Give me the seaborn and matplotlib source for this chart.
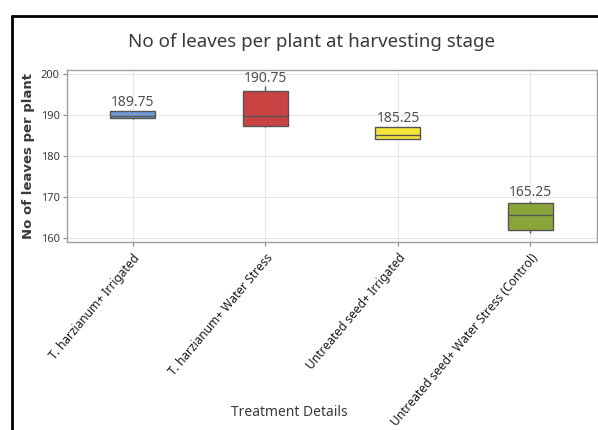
import matplotlib
matplotlib.use("Agg")
import matplotlib.pyplot as plt
import seaborn as sns
import pandas as pd
from matplotlib.lines import Line2D

# ---- data ----
treatments = [
    "T. harzianum+ Irrigated",
    "T. harzianum+ Water Stress",
    "Untreated seed+ Irrigated",
    "Untreated seed+ Water Stress (Control)",
]
leaves_t1 = [189.2, 189.3, 189.75, 191.0, 191.1]
leaves_t2 = [187.2, 187.3, 189.75, 196.0, 197.1]
leaves_t3 = [184.1, 184.2, 185.3, 187.1, 187.2]
leaves_t4 = [161.4, 162.0, 165.75, 168.7, 169.2]
mean_labels = [189.75, 190.75, 185.25, 165.25]
y_ticks = [160, 170, 180, 190, 200]

palette = ["#6f9bd6", "#c94343", "#f7e53c", "#8aa53a"]

groups = [leaves_t1, leaves_t2, leaves_t3, leaves_t4]
df = pd.DataFrame({
    "Treatment": [t for t, g in zip(treatments, groups) for _ in g],
    "Leaves": [v for g in groups for v in g],
})

sns.set_theme(style="white")
plt.rcParams["font.family"] = ["Noto Sans", "DejaVu Sans"]
text_c = "#3a3a3a"

fig = plt.figure(figsize=(5.98, 4.30), dpi=100)
ax = fig.add_axes([66.7 / 598, 1 - 242 / 430, 530 / 598, 172 / 430])

sns.boxplot(
    data=df, x="Treatment", y="Leaves", hue="Treatment", order=treatments,
    hue_order=treatments, palette=palette, width=0.34, linecolor="#555555",
    linewidth=1, fliersize=0, legend=False, ax=ax, saturation=1,
    capprops={"visible": False},
)

ax.set_xlim(-0.5, 3.5)
ax.set_ylim(159.1, 201.05)
ax.set_yticks(y_ticks)
ax.set_yticklabels([str(t) for t in y_ticks], fontsize=8, color=text_c)
ax.set_xticks(range(len(treatments)))
ax.set_xticklabels(treatments, rotation=50, ha="right", rotation_mode="anchor",
                   fontsize=8.6, color="#1a1a1a")
ax.tick_params(axis="both", length=3, width=0.8, color="#888888", pad=2,
               bottom=True, left=True)
ax.tick_params(axis="x", pad=4)
ax.grid(True, color="#e6e6e6", linewidth=0.8)
ax.set_axisbelow(True)
for s in ax.spines.values():
    s.set_color("#a0a0a0")
    s.set_linewidth(1)

for i, g in enumerate(groups):
    ax.annotate(f"{mean_labels[i]:.2f}", xy=(i, max(g)), xytext=(0, 0.5),
                textcoords="offset points", ha="center", va="bottom",
                fontsize=10, color="#505050")

ax.set_ylabel("No of leaves per plant", fontsize=9.5, fontweight="bold",
              color=text_c, family="DejaVu Sans")
ax.yaxis.set_label_coords((35 - 66.7) / 530, 0.5)
ax.set_xlabel("Treatment Details", fontsize=10, color=text_c)
ax.xaxis.set_label_coords((289 - 66.7) / 530, (242 - 405) / 172)

fig.text(311 / 598, 1 - 42 / 430, "No of leaves per plant at harvesting stage",
         ha="center", va="center", fontsize=13.5, color=text_c)

fig.add_artist(Line2D([11.5 / 598, 1], [1 - 15.5 / 430] * 2,
                      transform=fig.transFigure, color="black", lw=2))
fig.add_artist(Line2D([11.5 / 598] * 2, [0, 1 - 15.5 / 430],
                      transform=fig.transFigure, color="black", lw=2))

fig.savefig("out.png", dpi=100)
